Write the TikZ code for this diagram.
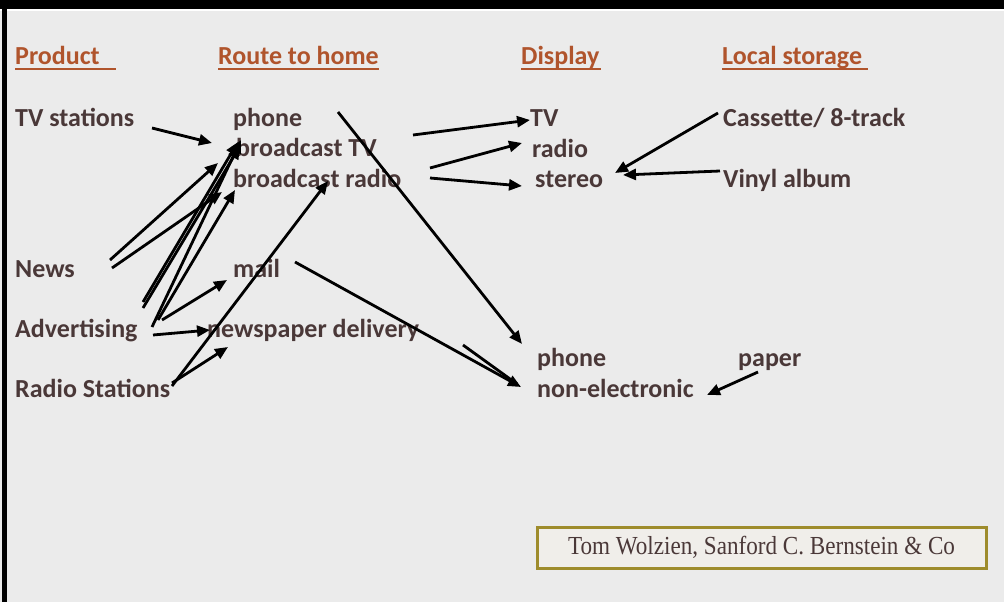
\documentclass[tikz,border=0pt]{standalone}
\usepackage{fontspec}
\setmainfont{Carlito}
\newfontfamily\boxfont{Liberation Serif}
\usetikzlibrary{arrows.meta}
\definecolor{bg}{HTML}{EBEBEB}
\definecolor{head}{HTML}{B0542C}
\definecolor{txt}{HTML}{4A3838}
\definecolor{olive}{HTML}{9E8C2C}
\definecolor{boxbg}{HTML}{F0EEEA}
\begin{document}
\begin{tikzpicture}[x=1pt,y=-1pt,
  lbl/.style={anchor=base west, inner sep=0pt, font=\fontsize{26}{26}\selectfont\bfseries, text=txt},
  hd/.style={lbl, text=head},
  uline/.style={draw=head, line width=1.6pt},
  arr/.style={line width=2.8pt, draw=black, -{Triangle[length=13pt,width=11pt]}},
  plain/.style={line width=2.8pt, draw=black}]
\useasboundingbox (0,0) rectangle (1004,602);
\fill[bg] (0,0) rectangle (1004,602);
% frame
\fill[black] (0,0) rectangle (1004,9);
\fill[white] (0,9) rectangle (1004,11);
\fill[black] (2,0) rectangle (7,602);
% headings
\node[hd] (prod) at (15,65) {Product};
\node[hd] (route) at (218,65) {Route to home};
\node[hd] (disp) at (521,65) {Display};
\node[hd] (local) at (722,65) {Local storage};
\draw[uline] (15,69) -- (116,69);
\draw[uline] (218,69) -- (379,69);
\draw[uline] (521,69) -- (601,69);
\draw[uline] (722,69) -- (868,69);
% labels
\node[lbl] (tvst) at (15,126) {TV stations};
\node[lbl] (rphone) at (233,126) {phone};
\node[lbl] (btv) at (236,156) {broadcast TV};
\node[lbl] (brad) at (233,187) {broadcast radio};
\node[lbl] (news) at (15,277) {News};
\node[lbl] (mail) at (233,277) {mail};
\node[lbl] (adv) at (15,337) {Advertising};
\node[lbl] (newsp) at (207,337) {newspaper delivery};
\node[lbl] (rst) at (15,397) {Radio Stations};
\node[lbl] (dtv) at (530,126) {TV};
\node[lbl] (drad) at (532,157) {radio};
\node[lbl] (dst) at (535,187) {stereo};
\node[lbl] (cas) at (723,126) {Cassette/ 8-track};
\node[lbl] (vin) at (723,187) {Vinyl album};
\node[lbl] (dph) at (537,366) {phone};
\node[lbl] (nonel) at (537,397) {non-electronic};
\node[lbl] (paper) at (738,366) {paper};
% source box
\node[draw=olive, line width=3pt, fill=boxbg, minimum width=449pt, minimum height=41pt, inner sep=0pt] (src) at (761.5,547.5)
  {\resizebox{387pt}{\height}{\boxfont\fontsize{26}{26}\selectfont\color{txt}Tom Wolzien, Sanford C. Bernstein \& Co}};
% arrow end points
\coordinate (a1s) at (152,128); \coordinate (a1e) at (212,143);
\coordinate (a2s) at (110,260); \coordinate (a2e) at (218,163);
\coordinate (a3s) at (112,268); \coordinate (a3e) at (222,192);
\coordinate (a4s) at (143,302); \coordinate (a4e) at (238,142);
\coordinate (a5s) at (143,308); \coordinate (a5e) at (240,146);
\coordinate (a6s) at (152,327); \coordinate (a6e) at (241,140);
\coordinate (a7s) at (158,320); \coordinate (a7e) at (235,190);
\coordinate (a8s) at (162,320); \coordinate (a8e) at (227,280);
\coordinate (a9s) at (153,335); \coordinate (a9e) at (210,330);
\coordinate (b1s) at (172,386); \coordinate (b1e) at (328,181);
\coordinate (b2s) at (172,383); \coordinate (b2e) at (228,347);
\coordinate (c1s) at (338,112); \coordinate (c1e) at (522,344);
\coordinate (c2s) at (413,135); \coordinate (c2e) at (530,120);
\coordinate (c3s) at (430,168); \coordinate (c3e) at (522,143);
\coordinate (c4s) at (430,178); \coordinate (c4e) at (522,186);
\coordinate (d1s) at (718,113); \coordinate (d1e) at (615,173);
\coordinate (d2s) at (720,171); \coordinate (d2e) at (623,175);
\coordinate (e1s) at (295,262); \coordinate (e1e) at (521,387);
\coordinate (e2s) at (463,345); \coordinate (e2e) at (517,384);
\coordinate (f1s) at (758,372); \coordinate (f1e) at (707,395);
% arrows
\foreach \p in {a1,a2,a3,a4,a5,a6,a7,a8,a9,b1,b2,c1,c2,c3,c4,d1,d2,e1,f1}
  \draw[arr] (\p s) -- (\p e);
\draw[plain] (e2s) -- (e2e);
\end{tikzpicture}
\end{document}
